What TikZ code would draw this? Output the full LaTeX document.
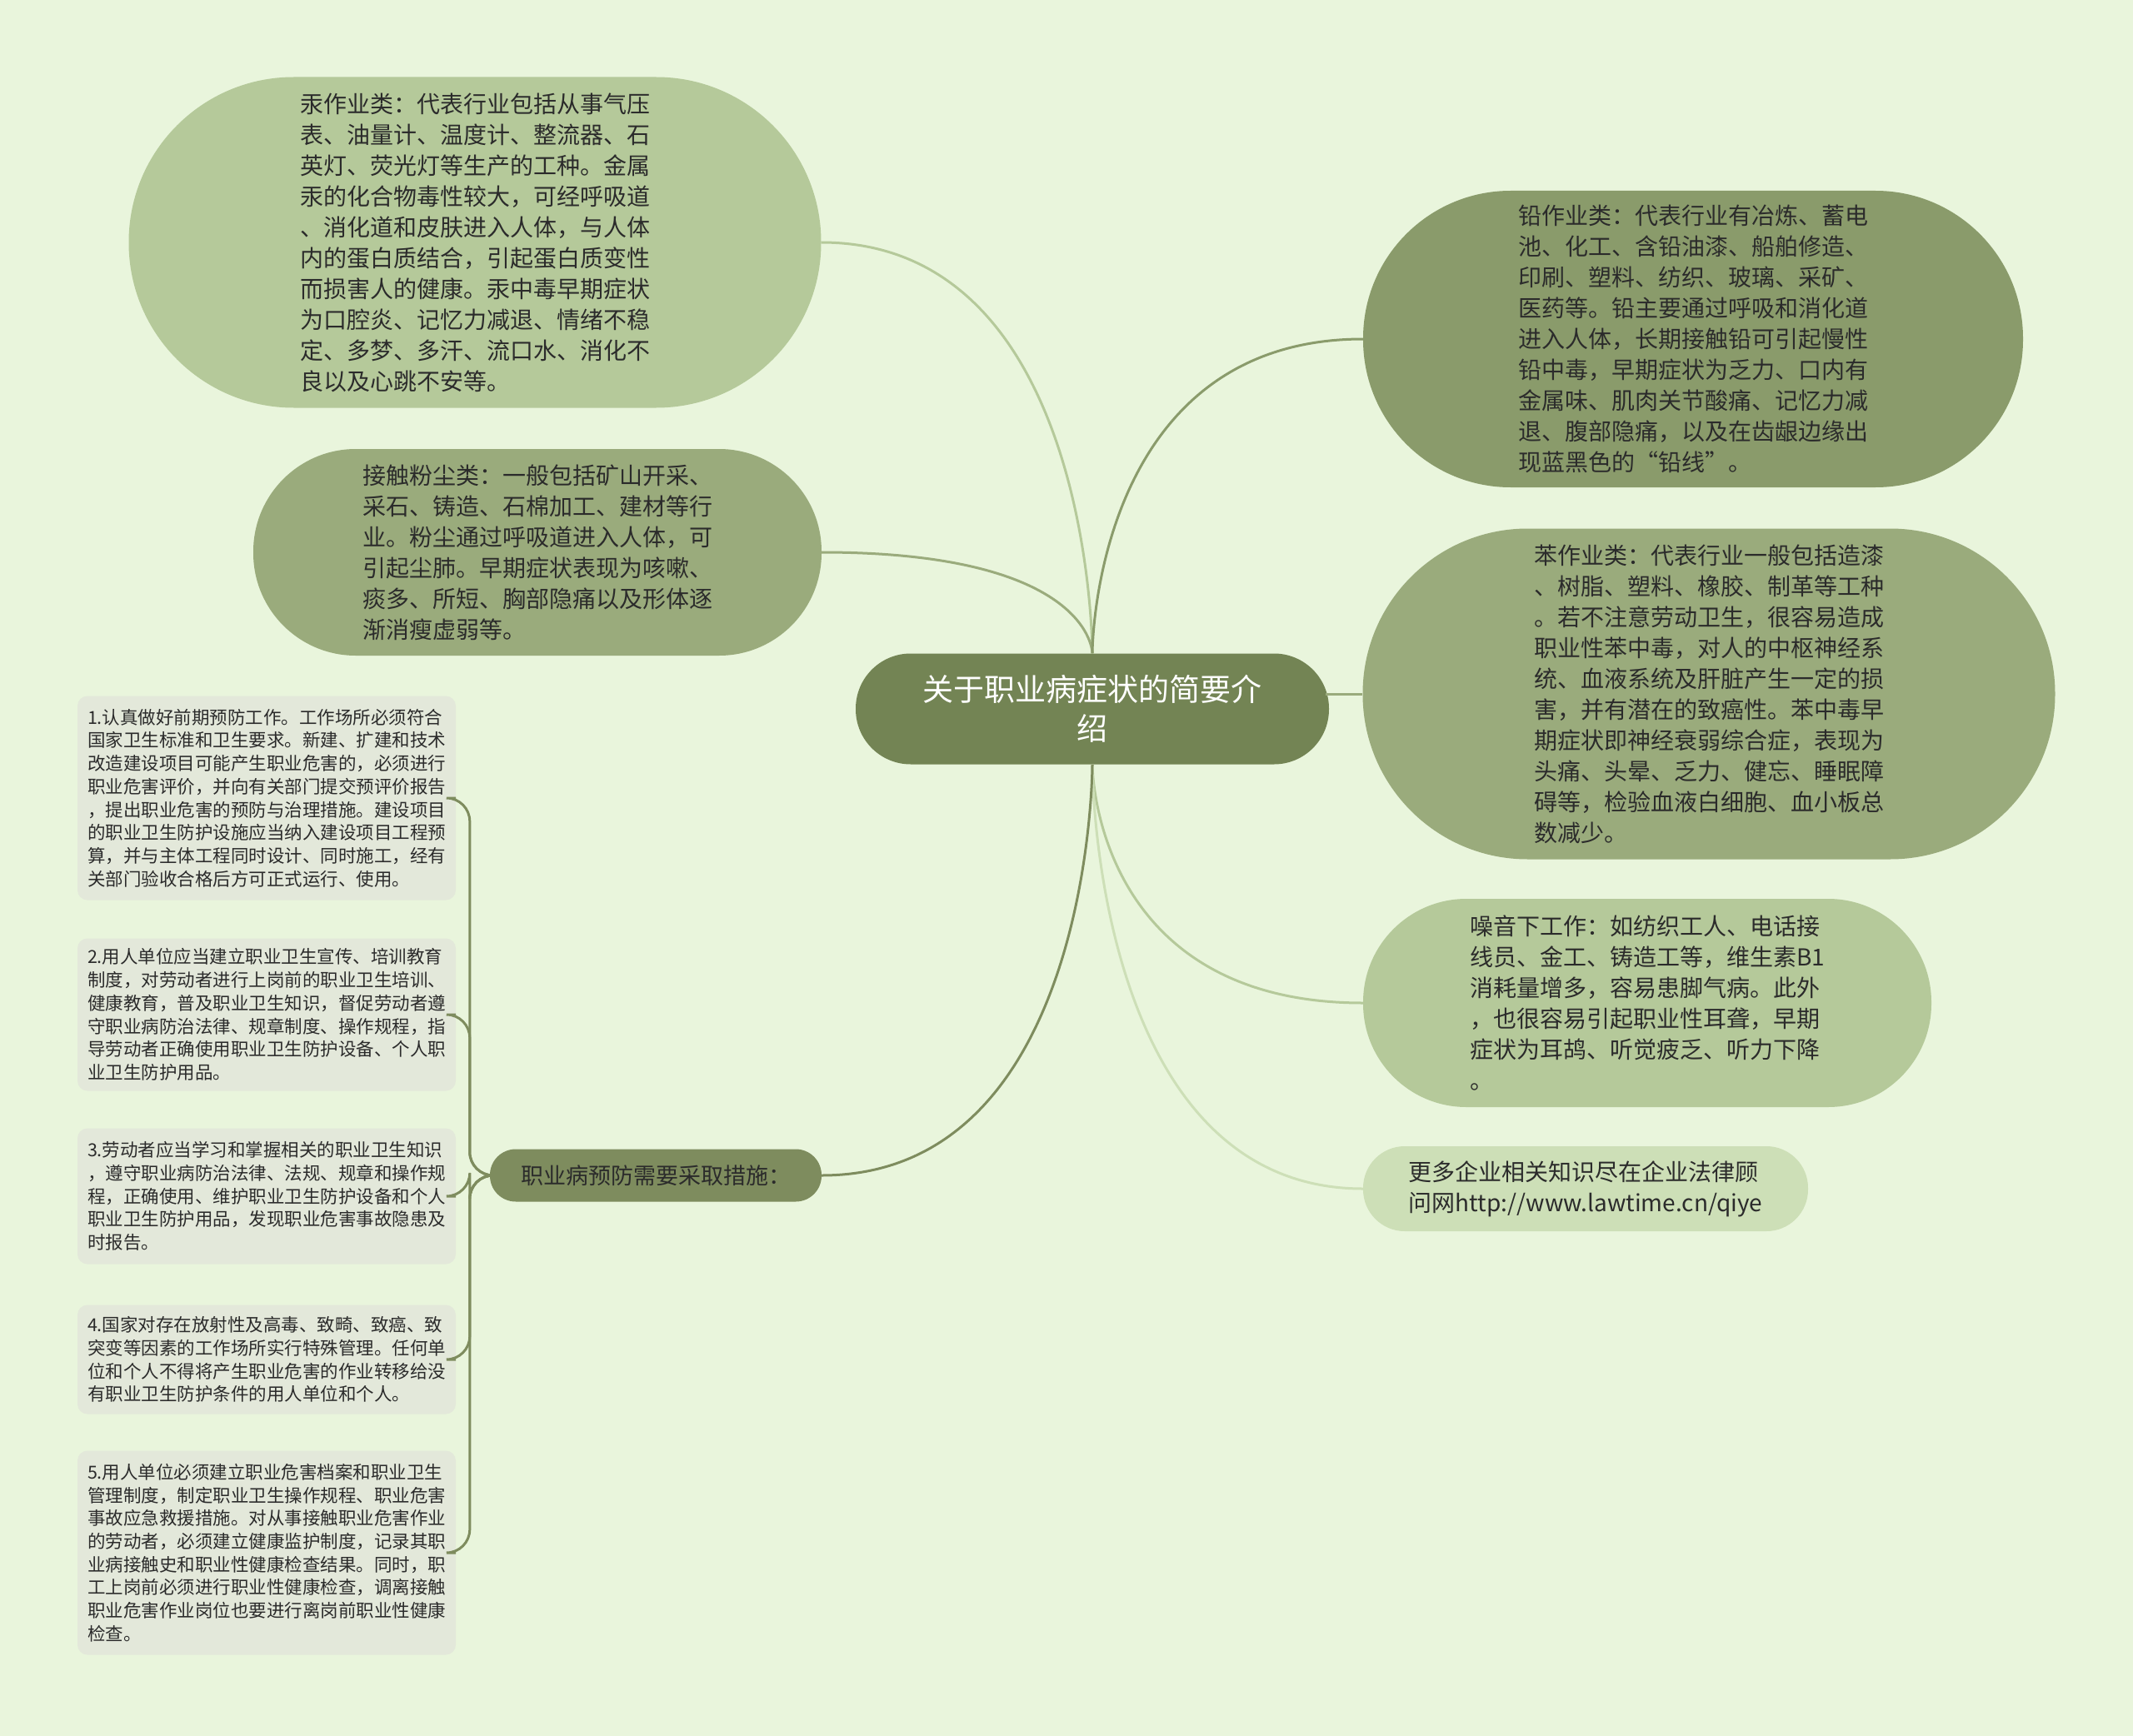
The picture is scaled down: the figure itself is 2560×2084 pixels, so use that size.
\documentclass[tikz,border=0pt]{standalone}
\usepackage{fontspec}
\newfontfamily\cjk{Noto Sans CJK SC}
\usetikzlibrary{calc}
\definecolor{bgc}{HTML}{E9F5DC}
\definecolor{cCenter}{HTML}{738454}
\definecolor{cLight}{HTML}{B5C99A}
\definecolor{cMid}{HTML}{9AAB7C}
\definecolor{cDark}{HTML}{8A9B6B}
\definecolor{cPrev}{HTML}{7E8C5E}
\definecolor{cLink}{HTML}{CDDFB7}
\definecolor{cLeaf}{HTML}{E3E8DA}
\definecolor{txt}{HTML}{2B2B2B}
\tikzset{
  bub/.style={rectangle, inner sep=0pt, align=left, text=txt,
    font={\cjk\fontsize{28pt}{37pt}\selectfont}},
  leaf/.style={rectangle, fill=cLeaf, inner sep=0pt, align=left, text=txt,
    minimum width=454pt, rounded corners=12pt,
    font={\cjk\fontsize{21.5pt}{27.7pt}\selectfont}},
  conn/.style={line width=3pt},
}
\begin{document}
\begin{tikzpicture}[x=1pt,y=-1pt]
\fill[bgc] (0,0) rectangle (2560,2084);
\useasboundingbox (0,0) rectangle (2560,2084);

% center
\node[bub, fill=cCenter, text=white, align=center, minimum width=568pt, minimum height=133pt,
  rounded corners=66pt, font={\cjk\fontsize{37pt}{47pt}\selectfont}] (c) at (1311,851)
  {关于职业病症状的简要介\\绍};

% left big nodes
\node[bub, fill=cLight, minimum width=831pt, minimum height=397pt, rounded corners=198pt] (merc) at (570,291)
{汞作业类：代表行业包括从事气压\\
表、油量计、温度计、整流器、石\\
英灯、荧光灯等生产的工种。金属\\
汞的化合物毒性较大，可经呼吸道\\
、消化道和皮肤进入人体，与人体\\
内的蛋白质结合，引起蛋白质变性\\
而损害人的健康。汞中毒早期症状\\
为口腔炎、记忆力减退、情绪不稳\\
定、多梦、多汗、流口水、消化不\\
良以及心跳不安等。};

\node[bub, fill=cMid, minimum width=682pt, minimum height=248pt, rounded corners=123pt] (dust) at (645,663)
{接触粉尘类：一般包括矿山开采、\\
采石、铸造、石棉加工、建材等行\\
业。粉尘通过呼吸道进入人体，可\\
引起尘肺。早期症状表现为咳嗽、\\
痰多、所短、胸部隐痛以及形体逐\\
渐消瘦虚弱等。};

\node[bub, fill=cPrev, minimum width=398pt, minimum height=63pt, rounded corners=31pt,
  font={\cjk\fontsize{27pt}{35pt}\selectfont}] (prev) at (787,1411)
{职业病预防需要采取措施：};

% right nodes
\node[bub, fill=cDark, minimum width=792pt, minimum height=356pt, rounded corners=177pt] (lead) at (2032,407)
{铅作业类：代表行业有冶炼、蓄电\\
池、化工、含铅油漆、船舶修造、\\
印刷、塑料、纺织、玻璃、采矿、\\
医药等。铅主要通过呼吸和消化道\\
进入人体，长期接触铅可引起慢性\\
铅中毒，早期症状为乏力、口内有\\
金属味、肌肉关节酸痛、记忆力减\\
退、腹部隐痛，以及在齿龈边缘出\\
现蓝黑色的“铅线”。};

\node[bub, fill=cMid, minimum width=831pt, minimum height=397pt, rounded corners=198pt] (benz) at (2051,833)
{苯作业类：代表行业一般包括造漆\\
、树脂、塑料、橡胶、制革等工种\\
。若不注意劳动卫生，很容易造成\\
职业性苯中毒，对人的中枢神经系\\
统、血液系统及肝脏产生一定的损\\
害，并有潜在的致癌性。苯中毒早\\
期症状即神经衰弱综合症，表现为\\
头痛、头晕、乏力、健忘、睡眠障\\
碍等，检验血液白细胞、血小板总\\
数减少。};

\node[bub, fill=cLight, minimum width=682pt, minimum height=250pt, rounded corners=124pt] (noise) at (1977,1204)
{噪音下工作：如纺织工人、电话接\\
线员、金工、铸造工等，维生素B1\\
消耗量增多，容易患脚气病。此外\\
，也很容易引起职业性耳聋，早期\\
症状为耳鸪、听觉疲乏、听力下降\\
。};

\node[bub, fill=cLink, minimum width=534pt, minimum height=102pt, rounded corners=50pt] (link) at (1903,1427)
{更多企业相关知识尽在企业法律顾\\
问网http://www.lawtime.cn/qiye};

% leaves
\node[leaf, minimum height=245pt] (l1) at (320,958)
{1.认真做好前期预防工作。工作场所必须符合\\
国家卫生标准和卫生要求。新建、扩建和技术\\
改造建设项目可能产生职业危害的，必须进行\\
职业危害评价，并向有关部门提交预评价报告\\
，提出职业危害的预防与治理措施。建设项目\\
的职业卫生防护设施应当纳入建设项目工程预\\
算，并与主体工程同时设计、同时施工，经有\\
关部门验收合格后方可正式运行、使用。};

\node[leaf, minimum height=183pt] (l2) at (320,1218)
{2.用人单位应当建立职业卫生宣传、培训教育\\
制度，对劳动者进行上岗前的职业卫生培训、\\
健康教育，普及职业卫生知识，督促劳动者遵\\
守职业病防治法律、规章制度、操作规程，指\\
导劳动者正确使用职业卫生防护设备、个人职\\
业卫生防护用品。};

\node[leaf, minimum height=163pt] (l3) at (320,1436)
{3.劳动者应当学习和掌握相关的职业卫生知识\\
，遵守职业病防治法律、法规、规章和操作规\\
程，正确使用、维护职业卫生防护设备和个人\\
职业卫生防护用品，发现职业危害事故隐患及\\
时报告。};

\node[leaf, minimum height=131pt] (l4) at (320,1632)
{4.国家对存在放射性及高毒、致畸、致癌、致\\
突变等因素的工作场所实行特殊管理。任何单\\
位和个人不得将产生职业危害的作业转移给没\\
有职业卫生防护条件的用人单位和个人。};

\node[leaf, minimum height=245pt] (l5) at (320,1864)
{5.用人单位必须建立职业危害档案和职业卫生\\
管理制度，制定职业卫生操作规程、职业危害\\
事故应急救援措施。对从事接触职业危害作业\\
的劳动者，必须建立健康监护制度，记录其职\\
业病接触史和职业性健康检查结果。同时，职\\
工上岗前必须进行职业性健康检查，调离接触\\
职业危害作业岗位也要进行离岗前职业性健康\\
检查。};

% connectors from center
\draw[conn, cLight] (merc.east) .. controls (merc.east -| c.north) and (c.north) .. (c.north);
\draw[conn, cMid] (dust.east) .. controls (dust.east -| c.north) and (c.north) .. (c.north);
\draw[conn, cDark] (c.north) .. controls (c.north) and (c.north |- lead.west) .. (lead.west);
\draw[conn, cMid] ($(c.east |- benz.west)+(-4,0)$) -- (benz.west);
\draw[conn, cLight] (c.south) .. controls (c.south) and (c.south |- noise.west) .. (noise.west);
\draw[conn, cLink] (c.south) .. controls (c.south) and (c.south |- link.west) .. (link.west);
\draw[conn, cPrev] (c.south) .. controls (c.south) and (c.south |- prev.east) .. (prev.east);

% leaf connectors
\foreach \n in {l1,l2,l3,l4,l5}{
  \draw[conn, cPrev, rounded corners=28pt] (prev.west) -- ++(-24,0) |- (\n.east);
}
\end{tikzpicture}
\end{document}
